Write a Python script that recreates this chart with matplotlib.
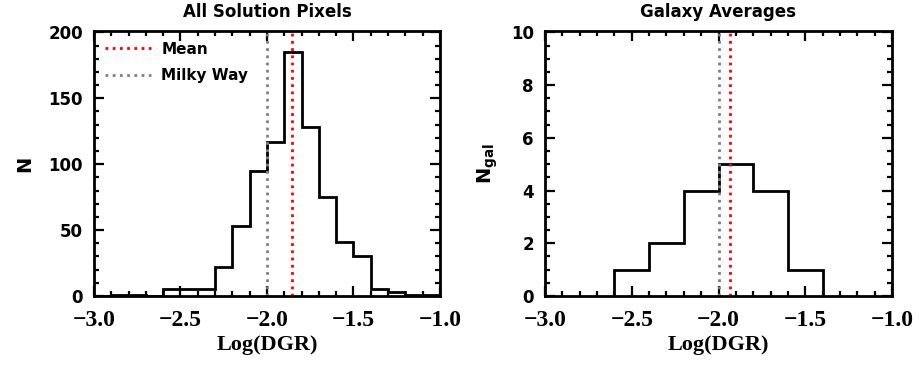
import matplotlib
matplotlib.use('Agg')
import matplotlib.pyplot as plt
import numpy as np
from matplotlib.ticker import MultipleLocator

# histogram of all solution pixels (bin width 0.1)
pix_edges = np.round(np.arange(-3.0, -0.95, 0.1), 1)
pix_counts = [0, 1, 1, 0, 5, 5, 5, 22, 53, 95, 117, 185, 128, 75, 41, 30, 5, 3, 1, 1]
pix_mean = -1.853

# histogram of galaxy averages (bin width 0.2)
gal_edges = [-2.6, -2.4, -2.2, -2.0, -1.8, -1.6, -1.4]
gal_counts = [1, 2, 4, 5, 4, 1]
gal_mean = -1.934

mw_dgr = -2.0
xticks = [-3.0, -2.5, -2.0, -1.5, -1.0]
xticklabels = ['\u22123.0', '\u22122.5', '\u22122.0', '\u22121.5', '\u22121.0']

sans = 'DejaVu Sans'
serif = 'Liberation Serif'
dot = (0, (1, 1.6))

fig = plt.figure(figsize=(9.2, 3.66), dpi=100)
ax1 = fig.add_axes([94/920, 1-296/366, 346/920, 265/366])
ax2 = fig.add_axes([545/920, 1-296/366, 347/920, 265/366])


def style_axis(ax, ymaj, ymin):
    ax.set_xlim(-3.0, -1.0)
    ax.xaxis.set_major_locator(MultipleLocator(0.5))
    ax.xaxis.set_minor_locator(MultipleLocator(0.1))
    ax.yaxis.set_major_locator(MultipleLocator(ymaj))
    ax.yaxis.set_minor_locator(MultipleLocator(ymin))
    ax.tick_params(which='both', direction='in', top=True, right=True, width=1.6)
    ax.tick_params(which='major', length=7)
    ax.tick_params(which='minor', length=3.5)
    ax.tick_params(axis='x', pad=10)
    ax.tick_params(axis='y', pad=8)
    for s in ax.spines.values():
        s.set_linewidth(2)
    ax.set_xticks(xticks)
    ax.set_xticklabels(xticklabels, family=serif, fontweight='bold', fontsize=17)
    for lab in ax.get_yticklabels():
        lab.set_family(sans)
        lab.set_fontweight('bold')
        lab.set_fontsize(12)
    ax.set_xlabel('Log(DGR)', family=serif, fontweight='bold', fontsize=16, labelpad=3)


# left panel
ax1.stairs(pix_counts, pix_edges, color='black', lw=2)
l1 = ax1.axvline(pix_mean, color='red', lw=2, ls=dot)
l2 = ax1.axvline(mw_dgr, color='gray', lw=2, ls=dot)
ax1.set_ylim(0, 201)
style_axis(ax1, 50, 10)
ax1.set_title('All Solution Pixels', family=sans, fontweight='bold', fontsize=12, pad=10)
ax1.set_ylabel('N', family=sans, fontweight='bold', fontsize=14, labelpad=10)
leg = ax1.legend([l1, l2], ['Mean', 'Milky Way'], loc='upper left', frameon=False,
                 prop={'family': sans, 'weight': 'bold', 'size': 11},
                 handlelength=3.0, handletextpad=0.7, labelspacing=0.75,
                 borderaxespad=0.3)

# right panel
ax2.stairs(gal_counts, gal_edges, color='black', lw=2)
ax2.axvline(gal_mean, color='red', lw=2, ls=dot)
ax2.axvline(mw_dgr, color='gray', lw=2, ls=dot)
ax2.set_ylim(0, 10.05)
style_axis(ax2, 2, 0.5)
ax2.set_title('Galaxy Averages', family=sans, fontweight='bold', fontsize=12, pad=10)
ax2.set_ylabel(r'N$_{\mathbf{gal}}$', family=sans, fontweight='bold', fontsize=14, labelpad=8)

fig.savefig('out.png', dpi=100)
